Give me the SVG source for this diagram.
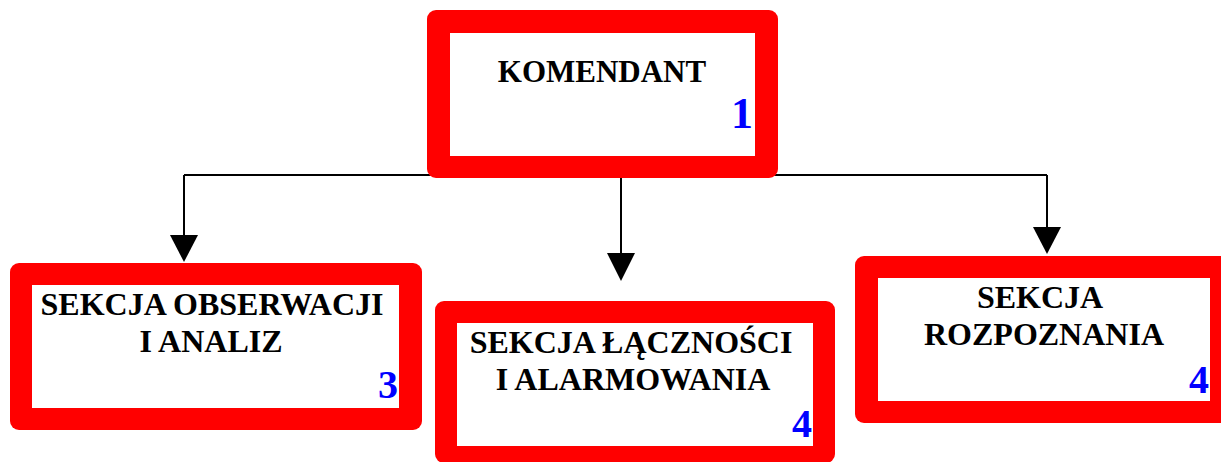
<svg xmlns="http://www.w3.org/2000/svg" width="1221" height="462" viewBox="0 0 1221 462">
<style>
.outer{fill:#ff0000}
.inner{fill:#ffffff}
.t{font-family:"Liberation Serif","Times New Roman",serif;font-weight:bold;font-size:32px;fill:#000;text-anchor:middle}
.n{font-family:"Liberation Serif","Times New Roman",serif;font-weight:bold;fill:#0000ff;text-anchor:end}
.ln{stroke:#000;stroke-width:2;fill:none}
.ah{fill:#000}
</style>
<rect width="1221" height="462" fill="#fff"/>
<g id="connectors">
<path class="ln" d="M184,175 H1047"/>
<path class="ln" d="M184,175 V237"/>
<polygon class="ah" points="170,235 198,235 184,262"/>
<path class="ln" d="M621,175 V255"/>
<polygon class="ah" points="607,253 635,253 621,281"/>
<path class="ln" d="M1047,175 V229"/>
<polygon class="ah" points="1033,227 1061,227 1047,254"/>
</g>
<g id="komendant">
<rect class="outer" x="427" y="10" width="351" height="168" rx="9"/>
<rect class="inner" x="450" y="33" width="305" height="123"/>
<text class="t" x="602" y="82" style="font-size:31px">KOMENDANT</text>
<text class="n" x="753" y="128" font-size="44">1</text>
</g>
<g id="sekcja-obserwacji">
<rect class="outer" x="10" y="263" width="412" height="167" rx="9"/>
<rect class="inner" x="32" y="285" width="367" height="123"/>
<text class="t" x="212" y="315">SEKCJA OBSERWACJI</text>
<text class="t" x="211" y="352">I ANALIZ</text>
<text class="n" x="398" y="398" font-size="40">3</text>
</g>
<g id="sekcja-lacznosci">
<rect class="outer" x="435" y="301" width="400" height="162" rx="9"/>
<rect class="inner" x="457" y="323" width="356" height="123"/>
<text class="t" x="631" y="353">SEKCJA ŁĄCZNOŚCI</text>
<text class="t" x="633" y="390">I ALARMOWANIA</text>
<text class="n" x="812" y="437" font-size="40">4</text>
</g>
<g id="sekcja-rozpoznania">
<rect class="outer" x="855" y="256" width="377" height="167" rx="9"/>
<rect class="inner" x="878" y="278" width="332" height="123"/>
<text class="t" x="1040" y="308">SEKCJA</text>
<text class="t" x="1044" y="345">ROZPOZNANIA</text>
<text class="n" x="1209" y="393" font-size="40">4</text>
</g>
</svg>
